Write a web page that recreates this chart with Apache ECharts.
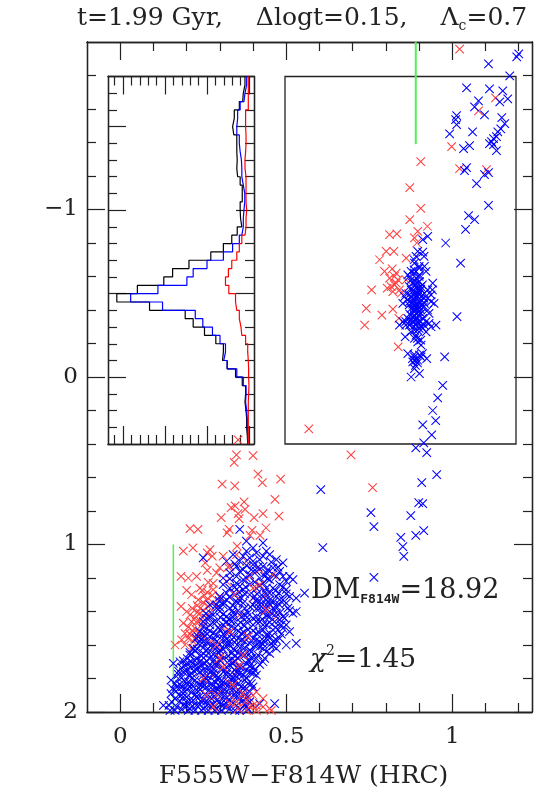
<!DOCTYPE html>
<html><head><meta charset="utf-8">
<style>html,body{margin:0;padding:0;background:#fff}#c{width:536px;height:797px}</style>
<script src="https://cdn.jsdelivr.net/npm/echarts@6/dist/echarts.min.js"></script>
</head><body><div id="c"></div>
<script>
const FONT = 'DejaVu Serif';
const xMajorTicks = [0, 0.5, 1];
const xMinorTicks = [0.1,0.2,0.3,0.4,0.6,0.7,0.8,0.9,1.1,1.2];
const yMajorTicks = [-1, 0, 1, 2];
const yMinorTicks = [-1.8,-1.6,-1.4,-1.2,-0.8,-0.6,-0.4,-0.2,0.2,0.4,0.6,0.8,1.2,1.4,1.6,1.8];
const insetYMajor = [-1.5,-1,-0.5,0];
const insetYMinor = [-1.7,-1.6,-1.4,-1.3,-1.2,-1.1,-0.9,-0.8,-0.7,-0.6,-0.4,-0.3,-0.2,-0.1,0.1,0.2,0.3];
const insetXMajor = [0,0.1,0.2,0.3];
const insetXMinor = [0.02,0.04,0.06,0.08,0.12,0.14,0.16,0.18,0.22,0.24,0.26,0.28,0.32];

const binEdges = [-1.8,-1.75,-1.7,-1.65,-1.6,-1.55,-1.5,-1.45,-1.4,-1.35,-1.3,-1.25,-1.2,-1.15,-1.1,-1.05,-1,-0.95,-0.9,-0.85,-0.8,-0.75,-0.7,-0.65,-0.6,-0.55,-0.5,-0.45,-0.4,-0.35,-0.3,-0.25,-0.2,-0.15,-0.1,-0.05,0,0.05,0.1,0.15,0.2,0.25,0.3,0.35,0.4];
const histBlack = [.0095,.0135,.015,.023,.035,.039,.036,.029,.029,.028,.029,.027,.021,.016,.016,.021,.020,.017,.028,.041,.061,.091,.143,.182,.203,.266,.315,.237,.152,.133,.106,.079,.061,.063,.052,.032,.016,.008,.0095,.007,.0055,.0055,.004,.003];
const histBlue = [.0055,.0095,.012,.021,.027,.029,.029,.023,.021,.018,.017,.017,.0135,.010,.010,.012,.0135,.0135,.017,.023,.039,.061,.100,.133,.148,.217,.282,.206,.128,.110,.087,.069,.056,.060,.052,.029,.0135,.007,.008,.0055,.004,.004,.003,.0024];
const histRed = [.0016,.0016,.0016,.0016,.008,.008,.007,.007,.008,.0095,.0095,.007,.007,.007,.007,.0055,.007,.007,.0095,.017,.023,.029,.041,.049,.056,.048,.032,.029,.023,.019,.017,.008,.003,.0016,.0008,.0008,0,.0008,.0016,.0016,.0016,.0016,.0016,.0016];

const greenUpper = [[0.89,-2],[0.89,-1.39]];
const greenLower = [[0.16,1],[0.16,2]];

const blueUpper = [[1.2,-1.929],[1.194,-1.911],[1.109,-1.869],[1.173,-1.798],[1.043,-1.726],[1.112,-1.72],[1.152,-1.708],[1.167,-1.661],[1.143,-1.643],[1.079,-1.649],[1.067,-1.613],[1.097,-1.565],[1.013,-1.56],[1.01,-1.536],[1.013,-1.506],[1.149,-1.548],[1.158,-1.512],[1.146,-1.482],[1.137,-1.464],[1.061,-1.464],[.992,-1.452],[1.133,-1.435],[1.124,-1.423],[1.118,-1.405],[1.112,-1.393],[1.124,-1.387],[1.133,-1.351],[1.052,-1.381],[1.034,-1.363],[1.043,-1.25],[1.037,-1.232],[1.109,-1.22],[1.097,-1.208],[1.073,-1.155],[1.109,-1.024],[1.049,-.964],[1.067,-.94],[1.04,-.881]];
const blueClump = [[.926,-.84],[.911,-.82],[.98,-.80],[1.025,-.68],[.911,-.746],[.896,-.75],[.891,-.72],[.886,-.68],[.916,-.66],[.921,-.63],[.876,-.63],[.866,-.61],[.886,-.62],[.901,-.61],[.891,-.59],[.876,-.58],[.901,-.57],[.941,-.56],[.886,-.55],[.871,-.54],[.896,-.53],[.926,-.52],[.876,-.52],[.901,-.51],[.886,-.50],[.916,-.50],[.936,-.49],[.856,-.48],[.876,-.48],[.896,-.48],[.926,-.47],[.886,-.46],[.906,-.46],[.851,-.44],[.871,-.45],[.891,-.44],[.916,-.44],[.936,-.45],[.886,-.42],[.901,-.42],[.926,-.40],[.876,-.41],[.891,-.40],[.906,-.38],[.886,-.37],[.866,-.35],[.891,-.35],[.911,-.35],[.851,-.33],[.876,-.34],[.841,-.31],[.871,-.31],[.896,-.33],[.921,-.33],[.951,-.31],[.936,-.30],[1.014,-.36],[.911,-.29],[.886,-.28],[.921,-.27],[.891,-.25],[.858,-.24],[.886,-.23],[.896,-.21],[.906,-.19],[.866,-.14],[.901,-.13],[.886,-.12],[.923,-.11],[.977,-.12],[.881,-.09],[.896,-.10],[.889,-.07],[.886,-.05],[.901,-.02],[.876,.0],[.906,-.12],[.893,-.54],[.905,-.525],[.883,-.515],[.898,-.495],[.908,-.485],[.888,-.475],[.903,-.445],[.881,-.435],[.895,-.425],[.912,-.415],[.884,-.39],[.899,-.37],[.872,-.375],[.885,-.33],[.905,-.305],[.882,-.30],[.86,-.31],[.9,-.6],
[.88,-.56],[.895,-.56],[.91,-.55],[.87,-.49],[.885,-.49],[.915,-.47],[.865,-.46],[.88,-.445],[.91,-.43],[.895,-.41],[.905,-.40],[.87,-.43],[.885,-.405],[.90,-.39],[.88,-.355],[.895,-.345],[.905,-.33],[.915,-.31],[.875,-.32],[.89,-.31],[.86,-.33],[.93,-.32],[.90,-.29],[.895,-.28],[.875,-.27],[.895,-.23],[.905,-.22],[.88,-.11],[.895,-.085],[.89,-.10],[.885,-.135],[.91,-.14],[.9,-.66],[.885,-.64],[.87,-.6],[.89,-.57],[.9,-.65],[.885,-.7],[.915,-.72],[.905,-.54],[.86,-.5],[.945,-.44],[.94,-.52],[.93,-.38]];
const blueBranch = [[.971,.05],[.956,.125],[.941,.2],[.95,.26],[.911,.286],[.938,.345],[.914,.393],[.89,.423],[.923,.452],[.953,.583],[.908,.631],[.604,.673],[.899,.75],[.911,.756],[.875,.827],[.755,.81],[.764,.893],[.914,.917],[.89,.946],[.845,.958],[.851,1.012],[.61,1.018],[.854,1.071],[.764,1.196]];
const blueLower = [[.36,.91],[.38,.98],[.43,.99],[.25,1.08],[.34,1.06],[.32,1.1],[.38,1.04],[.41,1.05],[.44,1.04],[.45,1.06],[.36,1.1],[.42,1.09],[.39,1.08],[.47,1.09],[.49,1.11],[.33,1.17],
[.35,1.13],[.37,1.15],[.40,1.12],[.43,1.13],[.46,1.14],[.41,1.16],[.39,1.18],[.44,1.17],[.48,1.16],[.51,1.19],[.35,1.19],[.31,1.2],[.47,1.19],[.42,1.2],[.37,1.21],[.50,1.22],[.45,1.21],[.52,1.21],
[.31,1.24],[.33,1.26],[.35,1.23],[.37,1.27],[.39,1.24],[.41,1.26],[.43,1.23],[.46,1.26],[.48,1.24],[.50,1.27],[.34,1.29],[.45,1.29],
[.30,1.31],[.32,1.33],[.345,1.30],[.365,1.32],[.39,1.30],[.41,1.33],[.43,1.31],[.45,1.33],[.47,1.31],[.49,1.33],[.51,1.31],[.555,1.29],[.53,1.32],
[.27,1.36],[.29,1.38],[.31,1.36],[.33,1.38],[.355,1.35],[.375,1.38],[.40,1.36],[.42,1.38],[.44,1.36],[.46,1.38],[.48,1.36],[.505,1.38],
[.28,1.42],[.30,1.40],[.32,1.43],[.34,1.41],[.365,1.43],[.385,1.41],[.41,1.43],[.43,1.41],[.45,1.43],[.47,1.41],[.49,1.43],[.52,1.41],[.495,1.44],[.53,1.40],
[.25,1.46],[.27,1.48],[.29,1.46],[.31,1.48],[.335,1.46],[.355,1.48],[.38,1.46],[.40,1.48],[.42,1.46],[.44,1.48],[.465,1.46],[.485,1.48],[.26,1.44],[.33,1.445],
[.24,1.52],[.26,1.50],[.28,1.53],[.30,1.51],[.32,1.53],[.345,1.50],[.365,1.53],[.385,1.51],[.41,1.53],[.43,1.51],[.45,1.53],[.475,1.51],[.51,1.52],[.49,1.50],
[.23,1.56],[.25,1.58],[.27,1.55],[.29,1.58],[.31,1.56],[.33,1.58],[.355,1.56],[.375,1.58],[.40,1.56],[.42,1.58],[.44,1.56],[.46,1.58],[.48,1.56],
[.22,1.62],[.24,1.60],[.26,1.63],[.28,1.61],[.30,1.63],[.32,1.61],[.345,1.63],[.365,1.61],[.39,1.63],[.41,1.60],[.43,1.62],[.45,1.60],[.50,1.60],[.53,1.59],[.47,1.62],
[.21,1.66],[.23,1.68],[.25,1.65],[.27,1.68],[.29,1.66],[.31,1.68],[.335,1.65],[.355,1.68],[.375,1.66],[.395,1.68],[.415,1.66],[.45,1.65],[.435,1.68],
[.18,1.70],[.16,1.71],[.195,1.72],[.215,1.70],[.235,1.73],[.255,1.71],[.275,1.73],[.295,1.71],[.32,1.73],[.34,1.71],[.36,1.73],[.38,1.71],[.40,1.73],[.43,1.70],
[.19,1.76],[.21,1.78],[.23,1.75],[.25,1.78],[.27,1.76],[.29,1.78],[.31,1.76],[.33,1.78],[.35,1.76],[.37,1.78],[.39,1.76],[.41,1.78],
[.153,1.81],[.175,1.80],[.195,1.82],[.215,1.80],[.235,1.83],[.255,1.81],[.275,1.83],[.295,1.81],[.315,1.83],[.335,1.81],[.355,1.83],[.375,1.81],[.395,1.83],
[.17,1.85],[.19,1.87],[.21,1.85],[.23,1.87],[.25,1.85],[.27,1.88],[.29,1.86],[.31,1.88],[.33,1.86],[.35,1.88],[.37,1.86],[.39,1.88],[.40,1.85],
[.153,1.89],[.165,1.92],[.19,1.91],[.21,1.93],[.23,1.91],[.25,1.93],[.27,1.91],[.29,1.93],[.31,1.91],[.33,1.93],[.35,1.91],[.37,1.93],
[.13,1.96],[.147,1.96],[.17,1.97],[.19,1.96],[.21,1.98],[.23,1.96],[.25,1.98],[.27,1.96],[.29,1.98],[.31,1.96],[.33,1.98],[.35,1.96],[.38,1.97],[.42,1.95],[.465,1.95],
[.262,1.535],[.318,1.59],[.296,1.645],[.347,1.665],[.242,1.695],[.283,1.745],[.328,1.695],[.222,1.755],[.204,1.835],[.262,1.785],[.306,1.812],[.244,1.84],[.283,1.905],[.226,1.895],[.198,1.94],[.342,1.845],[.262,1.96],[.318,1.945],[.18,1.905],[.368,1.735],[.388,1.655],[.342,1.555],[.272,1.605],[.232,1.625],[.406,1.605],[.452,1.555],[.362,1.465],[.428,1.445],[.302,1.435],[.392,1.372],[.462,1.342],[.348,1.338],[.412,1.295],[.378,1.255],[.444,1.205],[.468,1.275],[.298,1.335],[.258,1.412],[.318,1.465],[.372,1.525],[.418,1.525],[.202,1.682],[.176,1.758],[.158,1.86],[.212,1.735],[.252,1.745],[.296,1.865],[.352,1.792],[.385,1.91],[.218,1.965],[.168,1.875],[.244,1.565],[.31,1.535],[.352,1.6],[.39,1.7],[.282,1.692],[.322,1.76],[.242,1.935],[.302,1.955],[.278,1.845],[.208,1.78],[.186,1.85],[.34,1.625],[.432,1.575],[.468,1.495],[.382,1.435],[.338,1.395],[.442,1.425],[.482,1.405],[.415,1.35],[.478,1.29],[.358,1.285],
[.40,1.02],[.37,1.07],[.43,1.07],[.40,1.10],[.455,1.105],[.345,1.115],[.38,1.125],[.415,1.135],[.445,1.15],[.36,1.16],[.395,1.15],[.475,1.135],[.33,1.205],[.38,1.2],[.435,1.19],[.49,1.19],
[.405,1.225],[.345,1.255],[.42,1.245],[.36,1.25],[.49,1.255],[.44,1.26],[.32,1.29],[.375,1.295],[.435,1.285],[.50,1.295],[.33,1.315],[.355,1.325],[.405,1.31],[.44,1.33],[.48,1.33],[.31,1.345],[.37,1.35],[.425,1.35],[.45,1.355],[.50,1.35],[.29,1.36],[.34,1.365],[.41,1.385],[.47,1.37],[.30,1.375],[.355,1.395],[.435,1.39],[.51,1.395],
[.31,1.415],[.375,1.42],[.455,1.41],[.27,1.43],[.34,1.435],[.40,1.44],[.48,1.45],[.28,1.465],[.32,1.46],[.375,1.485],[.41,1.46],[.45,1.465],[.25,1.49],[.295,1.495],[.335,1.49],[.43,1.48],[.5,1.48],[.27,1.515],[.325,1.51],[.355,1.515],[.40,1.515],[.46,1.51],[.25,1.535],[.29,1.54],[.335,1.54],[.38,1.545],[.44,1.54],[.485,1.535],[.235,1.55],[.285,1.565],[.32,1.565],[.365,1.57],[.41,1.57],[.47,1.57],[.26,1.585],[.30,1.595],[.345,1.585],[.39,1.59],[.43,1.595],[.235,1.59],
[.255,1.605],[.29,1.615],[.33,1.60],[.375,1.615],[.42,1.61],[.46,1.605],[.225,1.635],[.265,1.65],[.31,1.625],[.355,1.645],[.395,1.64],[.44,1.64],[.21,1.645],[.245,1.665],[.28,1.655],[.325,1.665],[.365,1.655],[.41,1.68],[.225,1.695],[.26,1.695],[.30,1.69],[.345,1.695],[.385,1.69],[.42,1.715],[.19,1.695],[.205,1.71],[.245,1.72],[.285,1.715],[.33,1.72],[.35,1.735],[.39,1.725],[.185,1.735],[.225,1.725],[.265,1.735],[.305,1.74],[.345,1.75],[.38,1.75],[.405,1.75],[.2,1.75],[.24,1.76],[.28,1.77],[.32,1.775],[.36,1.77],[.40,1.77],
[.175,1.775],[.215,1.77],[.255,1.795],[.295,1.795],[.34,1.795],[.38,1.795],[.185,1.795],[.225,1.81],[.265,1.81],[.305,1.83],[.345,1.82],[.385,1.83],[.165,1.83],[.205,1.82],[.245,1.825],[.285,1.82],[.325,1.84],[.365,1.845],[.18,1.835],[.22,1.845],[.26,1.85],[.30,1.845],[.34,1.865],[.38,1.86],[.2,1.865],[.24,1.865],[.28,1.87],[.32,1.875],[.36,1.875],[.19,1.89],[.215,1.885],[.255,1.895],[.295,1.895],[.34,1.9],[.375,1.9],[.2,1.91],[.24,1.905],[.275,1.92],[.32,1.915],[.36,1.92],[.39,1.94],[.18,1.935],[.22,1.93],[.26,1.935],[.30,1.94],[.34,1.945],[.375,1.955],[.155,1.94],[.2,1.965],[.24,1.955],[.28,1.955],[.32,1.97],[.36,1.99],[.165,1.99],[.185,1.985],[.225,1.99],[.265,1.99],[.305,1.99],[.345,1.99],[.385,1.985],[.15,1.99],[.205,1.99],[.245,1.99],[.285,1.99]];

const redUpper = [[1.022,-1.958],[1.13,-1.667],[1.079,-1.589],[.998,-1.375],[.905,-1.286],[1.022,-1.244],[1.103,-1.238],[.872,-1.131],[.905,-1.006],[.872,-.94],[.925,-.90],[.896,-.87],[.811,-.85],[.833,-.855],[.886,-.83],[.893,-.80],[.801,-.75],[.824,-.75],[.781,-.70],[.861,-.71],[.796,-.63],[.819,-.645],[.831,-.62],[.826,-.60],[.836,-.58],[.826,-.55],[.804,-.53],[.821,-.51],[.846,-.50],[.757,-.52],[.741,-.41],[.788,-.37],[.821,-.405],[.736,-.31],[.839,-.35],[.837,-.18],[.831,-.56],[.816,-.54],[.841,-.52],[.861,-.58],[.811,-.59]];
const redMiddle = [[.568,.31],[.355,.375],[.35,.465],[.40,.47],[.343,.51],[.695,.465],[.415,.58],[.428,.63],[.483,.61],[.307,.64],[.345,.65],[.76,.66],[.466,.73],[.373,.745],[.346,.77],[.334,.78],[.376,.79],[.355,.815],[.43,.815],[.478,.83],[.304,.84],[.403,.84],[.358,.845],[.439,.9],[.21,.905],[.234,.91],[.328,.91],[.322,.93],[.397,.915],[.391,.946],[.421,.946]];
const redLower = [[.352,1.01],[.19,1.04],[.219,1.02],[.27,1.03],[.262,1.05],[.277,1.07],[.31,1.07],[.256,1.11],[.262,1.155],[.183,1.19],[.205,1.2],[.23,1.19],[.325,1.135],
[.265,1.226],[.28,1.232],[.20,1.274],[.247,1.274],[.262,1.286],[.253,1.304],[.277,1.304],[.30,1.316],[.183,1.369],[.232,1.363],[.217,1.381],[.241,1.381],[.25,1.393],[.232,1.405],[.247,1.435],[.27,1.405],[.205,1.494],[.217,1.512],[.229,1.464],[.165,1.60],[.205,1.56],
[.40,1.96],[.376,1.92],[.355,1.87],[.45,1.98],[.39,1.94],[.37,1.97],[.345,1.78],[.325,1.82],[.305,1.66],[.29,1.72],[.27,1.58],[.31,1.50],[.36,1.42],[.40,1.32],[.38,1.10],[.33,1.13],[.35,1.06],[.42,1.15],[.46,1.18],[.29,1.98],[.33,1.90],[.30,1.85],[.41,1.88],[.43,1.92],[.25,1.55],[.22,1.58],[.24,1.70],[.28,1.78],[.34,1.70],[.47,1.43],[.44,1.30],[.39,1.19],[.32,1.22],[.26,1.33],[.235,1.53],[.41,1.99],[.38,1.99],
[.215,1.30],[.235,1.33],[.25,1.345],[.21,1.42],[.225,1.44],[.24,1.455],[.255,1.47],[.215,1.46],[.195,1.53],[.21,1.535],[.23,1.51],[.19,1.47],[.265,1.37],[.28,1.35],[.20,1.40],[.24,1.41],[.185,1.57],[.225,1.56],[.195,1.60],[.215,1.62],[.24,1.26],[.28,1.27],[.29,1.17],[.30,1.14]];
const redOverBlue = [[.345,1.30],[.40,1.26],[.33,1.52],[.29,1.60],[.36,1.72],[.31,1.73],[.34,1.84],[.29,1.90],[.37,1.89],[.33,1.95],[.26,1.90],[.37,1.66],[.44,1.39],[.42,1.24],[.385,1.55],[.30,1.68],[.28,1.97],[.35,1.94],[.39,1.97],[.41,1.96],[.38,1.93],[.355,1.98],[.43,1.97],[.455,1.99],[.40,1.90],[.25,1.80]];

const LINE = '#222';
const grids = [], xAxes = [], yAxes = [];
function axisBase(extra){ return Object.assign({type:'value', scale:true, splitLine:{show:false},
  axisLine:{show:true,onZero:false,lineStyle:{color:LINE,width:1.3}}, axisLabel:{show:false}}, extra); }
function addTickLayer(rect,xR,yR,xT,yT,len,inverse,labels){
  const g = grids.length; grids.push(Object.assign({containLabel:false},rect));
  const tick = (v)=>({show:true,inside:true,length:len,customValues:v,lineStyle:{color:LINE,width:1.2}});
  ['bottom','top'].forEach((p,i)=>{
    const o = axisBase({gridIndex:g,position:p,min:xR[0],max:xR[1],inverse:!!inverse,axisTick:tick(xT)});
    if(labels && i===0) Object.assign(o,labels.x);
    xAxes.push(o);
  });
  ['left','right'].forEach((p,i)=>{
    const o = axisBase({gridIndex:g,position:p,min:yR[0],max:yR[1],inverse:true,axisTick:tick(yT)});
    if(labels && i===0) Object.assign(o,labels.y);
    yAxes.push(o);
  });
  return {x:xAxes.length-2,y:yAxes.length-2};
}
const mainRect = {left:87,top:42,width:445,height:670};
const insetRect = {left:108,top:76.5,width:146,height:367.5};
const labelStyle = {show:true,inside:false,fontFamily:FONT,fontSize:23,color:'#222',hideOverlap:false};
const mainAxes = addTickLayer(mainRect,[-0.1,1.24],[-2,2],xMajorTicks,yMajorTicks,18,false,{
  x:{axisLabel:Object.assign({},labelStyle,{customValues:xMajorTicks,margin:14,formatter:v=>String(v)}),
     name:'F555W\u2212F814W (HRC)',nameLocation:'middle',nameGap:52,nameTextStyle:{fontFamily:FONT,fontSize:25,color:'#222',padding:[0,12,0,0]}},
  y:{axisLabel:Object.assign({},labelStyle,{customValues:yMajorTicks,margin:9,formatter:v=>String(v).replace('-','\u2212')})}
});
addTickLayer(mainRect,[-0.1,1.24],[-2,2],xMinorTicks,yMinorTicks,9,false);
const insetAxes = addTickLayer(insetRect,[-0.012,0.336],[-1.8,0.4],insetXMajor,insetYMajor,18,true);
addTickLayer(insetRect,[-0.012,0.336],[-1.8,0.4],insetXMinor,insetYMinor,9,true);
grids.push({show:true,left:285,top:76.5,width:231,height:367.5,borderColor:LINE,borderWidth:1.3,backgroundColor:'transparent'});

function steps(vals){
  const pts=[]; vals.forEach((v,i)=>{pts.push([v,binEdges[i]]);pts.push([v,binEdges[i+1]]);}); return pts;
}
const CROSS='path://M0,0L10,10M10,0L0,10';
function scatter(name,data,color,z){
  return {name,type:'scatter',xAxisIndex:mainAxes.x,yAxisIndex:mainAxes.y,data,symbol:CROSS,symbolSize:8.5,
    progressive:0,large:false,
    itemStyle:{color:color,borderColor:color,borderWidth:1.05,opacity:1},silent:true,z:z||3};
}
function hist(name,vals,color){
  return {name,type:'line',xAxisIndex:insetAxes.x,yAxisIndex:insetAxes.y,data:steps(vals),showSymbol:false,symbol:'none',
    lineStyle:{color,width:1.2},silent:true,z:5};
}
function green(name,data,w){
  return {name,type:'line',xAxisIndex:mainAxes.x,yAxisIndex:mainAxes.y,data,showSymbol:false,symbol:'none',
    lineStyle:{color:'#55ee55',width:w},silent:true,z:2};
}
const chart = echarts.init(document.getElementById('c'),null,{renderer:'canvas'});
chart.setOption({
  animation:false,backgroundColor:'#fff',
  title:{left:72,top:-2,text:'{a|t=1.99 Gyr,}{g| }{a|\u0394logt=0.15,}{g| }{a|\u039b}{s|c}{a|=0.7}',
    textStyle:{fontWeight:'normal',rich:{a:{fontFamily:FONT,fontWeight:'normal',fontSize:25,color:'#222',lineHeight:30},g:{fontFamily:FONT,fontSize:25,width:33,lineHeight:30},s:{fontFamily:FONT,fontWeight:'normal',fontSize:14,color:'#222',verticalAlign:'bottom',lineHeight:26}}}},
  grid:grids,xAxis:xAxes,yAxis:yAxes,
  graphic:[
    {type:'text',left:311,top:577,silent:true,style:{text:'{a|DM}{s|F814W}{a|=18.92}',rich:{a:{fontFamily:FONT,fontSize:27,fill:'#222',lineHeight:32},s:{fontFamily:'DejaVu Sans Mono',fontWeight:'bold',fontSize:13,fill:'#222',verticalAlign:'bottom',lineHeight:22}}}},
    {type:'text',left:310,top:644,silent:true,style:{text:'{i|\u03c7}{u|2}{a|=1.45}',rich:{i:{fontFamily:FONT,fontStyle:'italic',fontSize:26.5,fill:'#222',lineHeight:32},a:{fontFamily:FONT,fontSize:26.5,fill:'#222',lineHeight:32},u:{fontFamily:FONT,fontSize:14,fill:'#222',verticalAlign:'top',lineHeight:28}}}}
  ],
  series:[
    green('isoUpper',greenUpper,2),green('isoLower',greenLower,1.5),
    scatter('redUpper',redUpper,'#ff4040'),scatter('redMiddle',redMiddle,'#ff4040'),scatter('redLower',redLower,'#ff4040'),
    scatter('blueUpper',blueUpper,'#0000ff'),scatter('blueClump',blueClump,'#0000ff'),scatter('blueBranch',blueBranch,'#0000ff'),scatter('blueLower',blueLower,'#0000ff'),
    scatter('redOverBlue',redOverBlue,'#ff4040',4),
    hist('histBlack',histBlack,'#000'),hist('histBlue',histBlue,'#0000ff'),hist('histRed',histRed,'#ff0000')
  ]
});
</script></body></html>
